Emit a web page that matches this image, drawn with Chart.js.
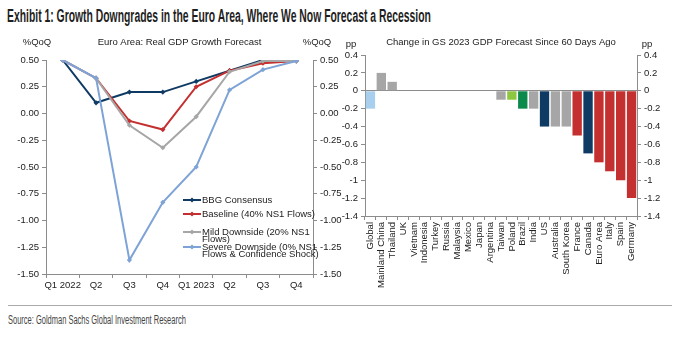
<!DOCTYPE html>
<html>
<head>
<meta charset="utf-8">
<script src="https://cdn.jsdelivr.net/npm/chart.js@4.4.0/dist/chart.umd.min.js"></script>
<style>
  body { margin: 0; width: 683px; height: 341px; background: #fff; position: relative; overflow: hidden; }
  #hdr { position: absolute; left: 7px; top: 6px; font: bold 17.5px "Liberation Sans", Arial, sans-serif; color: #1e1e1e; white-space: nowrap; transform-origin: 0 0; }
  #rule { position: absolute; left: 8px; top: 305px; width: 664px; height: 1px; background: #aaa; }
  #src { position: absolute; left: 8px; top: 313px; font: 12.5px "Liberation Sans", Arial, sans-serif; color: #444; white-space: nowrap; transform-origin: 0 0; }
  #growthChart { position: absolute; left: 0; top: 30px; }
  #changeChart { position: absolute; left: 336px; top: 30px; }
</style>
</head>
<body>
<div id="hdr">Exhibit 1: Growth Downgrades in the Euro Area, Where We Now Forecast a Recession</div>
<canvas id="growthChart" width="345" height="270"></canvas>
<canvas id="changeChart" width="347" height="270"></canvas>
<div id="rule"></div>
<div id="src">Source: Goldman Sachs Global Investment Research</div>

<script>
// Left panel: Euro Area real GDP growth, %QoQ
const quarters = ['Q1 2022', 'Q2', 'Q3', 'Q4', 'Q1 2023', 'Q2', 'Q3', 'Q4'];
const bbgConsensus = [0.50, 0.10, 0.20, 0.20, 0.30, 0.40, 0.50, 0.50];
const baseline = [0.50, 0.33, -0.07, -0.15, 0.25, 0.40, 0.47, 0.49];
const mildDownside = [0.50, 0.33, -0.11, -0.32, -0.03, 0.39, 0.49, 0.49];
const severeDownside = [0.50, 0.33, -1.37, -0.83, -0.50, 0.22, 0.41, 0.49];
const growthMin = -1.5, growthMax = 0.5, growthStep = 0.25;

// Right panel: change in GS 2023 GDP forecast, pp
const countries = ['Global', 'Mainland China', 'Thailand', 'UK', 'Vietnam', 'Indonesia', 'Turkey', 'Russia',
  'Malaysia', 'Mexico', 'Japan', 'Argentina', 'Taiwan', 'Poland', 'Brazil', 'India', 'US', 'Australia',
  'South Korea', 'France', 'Canada', 'Euro Area', 'Italy', 'Spain', 'Germany'];
const forecastChange = [-0.2, 0.2, 0.1, 0, 0, 0, 0, 0, 0, 0, 0, 0, -0.1, -0.1, -0.2, -0.2, -0.4, -0.4, -0.4,
  -0.5, -0.7, -0.8, -0.9, -1.0, -1.2];
const changeMin = -1.4, changeMax = 0.4, changeStep = 0.2;

const NAVY = '#0e3a63', RED = '#c3302f', GREY = '#a6a6a6', LBLUE = '#7ea3d6';
const barColors = ['#a9cfef', GREY, GREY, GREY, GREY, GREY, GREY, GREY, GREY, GREY, GREY, GREY, GREY,
  '#8dc63f', '#0b8a4b', GREY, NAVY, GREY, GREY, RED, NAVY, RED, RED, RED, RED];

const AXIS = '#8c8c8c';
const TXT = '#222';
const FONT = '"Liberation Sans", Arial, sans-serif';
Chart.defaults.font.family = FONT;
Chart.defaults.color = TXT;

// squeeze the header and source lines to the condensed widths of the original
function fitWidth(id, w) {
  const el = document.getElementById(id);
  el.style.transform = 'scaleX(' + (w / el.offsetWidth) + ')';
}
fitWidth('hdr', 424);
fitWidth('src', 178);

function diamond(ctx, x, y, r, color) {
  ctx.fillStyle = color;
  ctx.beginPath();
  ctx.moveTo(x, y - r); ctx.lineTo(x + r, y); ctx.lineTo(x, y + r); ctx.lineTo(x - r, y);
  ctx.closePath(); ctx.fill();
}

const legendItems = [
  { text: ['BBG Consensus'], color: NAVY, dy: 140 },
  { text: ['Baseline (40% NS1 Flows)'], color: RED, dy: 154 },
  { text: ['Mild Downside (20% NS1', 'Flows)'], color: GREY, dy: 172 },
  { text: ['Severe Downside (0% NS1', 'Flows & Confidence Shock)'], color: LBLUE, dy: 187 }
];

const growthText = {
  id: 'growthText',
  afterDraw(chart) {
    const { ctx, chartArea: a } = chart;
    ctx.save();
    ctx.fillStyle = TXT;
    ctx.font = '9.5px ' + FONT;
    ctx.textBaseline = 'middle';
    ctx.textAlign = 'center';
    ctx.fillText('Euro Area: Real GDP Growth Forecast', (a.left + a.right) / 2, 12);
    ctx.fillText('%QoQ', 37, 12);
    ctx.fillText('%QoQ', 317, 12);
    // legend inside the plot
    ctx.textAlign = 'left';
    legendItems.forEach(it => {
      const y = a.top + it.dy;
      ctx.strokeStyle = it.color;
      ctx.lineWidth = 2;
      ctx.beginPath(); ctx.moveTo(183, y); ctx.lineTo(201, y); ctx.stroke();
      diamond(ctx, 192, y, 2.5, it.color);
      ctx.fillStyle = TXT;
      it.text.forEach((t, i) => ctx.fillText(t, 202, y + i * 7.5));
    });
    ctx.restore();
  }
};

const changeText = {
  id: 'changeText',
  afterDraw(chart) {
    const { ctx, chartArea: a } = chart;
    ctx.save();
    ctx.fillStyle = TXT;
    ctx.font = '9.5px ' + FONT;
    ctx.textBaseline = 'middle';
    ctx.textAlign = 'center';
    ctx.fillText('Change in GS 2023 GDP Forecast Since 60 Days Ago', (a.left + a.right) / 2, 12);
    ctx.fillText('pp', 15, 14);
    ctx.fillText('pp', 311, 14);
    ctx.restore();
  }
};

function lineSet(label, data, color, order) {
  return {
    label, data, order,
    borderColor: color, backgroundColor: color,
    borderWidth: 2, tension: 0,
    pointStyle: 'rectRot', pointRadius: 2.6, pointBorderWidth: 0,
    yAxisID: 'y'
  };
}

function valueAxis(position, min, max, step, fmt, width, extra) {
  return Object.assign({
    position, min, max,
    afterFit: s => { s.width = width; },
    border: { color: AXIS },
    grid: { drawOnChartArea: false, tickLength: 4, color: AXIS },
    ticks: { stepSize: step, padding: 3, font: { size: 9.5 }, color: TXT, callback: fmt }
  }, extra || {});
}

new Chart(document.getElementById('growthChart'), {
  type: 'line',
  data: {
    labels: quarters,
    datasets: [
      lineSet('BBG Consensus', bbgConsensus, NAVY, 4),
      lineSet('Baseline (40% NS1 Flows)', baseline, RED, 3),
      lineSet('Mild Downside (20% NS1 Flows)', mildDownside, GREY, 2),
      lineSet('Severe Downside (0% NS1 Flows & Confidence Shock)', severeDownside, LBLUE, 1)
    ]
  },
  options: {
    responsive: false, animation: false,
    layout: { padding: { top: 30, left: 0, right: 0, bottom: 0 } },
    plugins: { legend: { display: false }, tooltip: { enabled: false } },
    scales: {
      x: {
        offset: true,
        afterFit: s => { s.height = 26; },
        border: { color: AXIS },
        grid: { offset: true, drawOnChartArea: false, tickLength: 4, color: AXIS },
        ticks: { font: { size: 9.5 }, color: TXT, maxRotation: 0, autoSkip: false, padding: 2 }
      },
      y: valueAxis('left', growthMin, growthMax, growthStep, v => v.toFixed(2), 46),
      y2: valueAxis('right', growthMin, growthMax, growthStep, v => v.toFixed(2), 32)
    }
  },
  plugins: [growthText]
});

const ppFmt = v => String(Number(v.toFixed(1)));

new Chart(document.getElementById('changeChart'), {
  type: 'bar',
  data: {
    labels: countries,
    datasets: [{
      data: forecastChange,
      backgroundColor: barColors,
      barPercentage: 0.86,
      categoryPercentage: 1
    }]
  },
  options: {
    responsive: false, animation: false,
    layout: { padding: { top: 25, left: 0, right: 0, bottom: 0 } },
    plugins: { legend: { display: false }, tooltip: { enabled: false } },
    scales: {
      x: {
        afterFit: s => { s.height = 84; },
        border: { color: AXIS },
        grid: { offset: true, drawOnChartArea: false, tickLength: 4, color: AXIS },
        ticks: { font: { size: 9.5 }, color: TXT, minRotation: 90, maxRotation: 90, autoSkip: false, padding: 2 }
      },
      y: valueAxis('left', changeMin, changeMax, changeStep, ppFmt, 29, {
        grid: {
          drawOnChartArea: true, tickLength: 4, tickColor: AXIS,
          color: c => (c.tick && c.tick.value === 0 ? AXIS : 'rgba(0,0,0,0)')
        }
      }),
      y2: valueAxis('right', changeMin, changeMax, changeStep, ppFmt, 46)
    }
  },
  plugins: [changeText]
});
</script>
</body>
</html>
